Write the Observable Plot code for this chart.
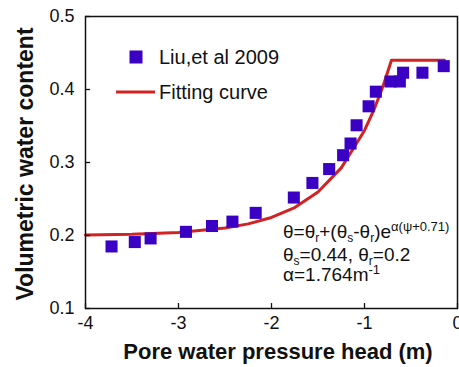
<!DOCTYPE html>
<html><head><meta charset="utf-8">
<script src="https://cdn.jsdelivr.net/npm/d3@7"></script>
<script src="https://cdn.jsdelivr.net/npm/@observablehq/plot@0.6"></script>
<style>body{margin:0;background:#fff} svg{display:block}</style>
</head><body><div id="chart"></div>
<script>
// Measured data (Liu, et al 2009)
const headX = [-3.72, -3.47, -3.30, -2.92, -2.64, -2.42, -2.17, -1.76, -1.56, -1.38, -1.23, -1.15, -1.085, -0.956, -0.878, -0.72, -0.62, -0.585, -0.377, -0.148];
const thetaY = [0.185, 0.191, 0.196, 0.205, 0.213, 0.219, 0.231, 0.252, 0.272, 0.291, 0.310, 0.326, 0.351, 0.377, 0.397, 0.411, 0.411, 0.423, 0.423, 0.432];
// Fitting curve
const curveX = [-4, -3.5, -3, -2.5, -2.25, -2, -1.75, -1.5, -1.25, -1.0, -0.9, -0.8, -0.71, -0.14];
const curveY = [0.2007, 0.2017, 0.2042, 0.2102, 0.2159, 0.2247, 0.2383, 0.2596, 0.2926, 0.3439, 0.3716, 0.4048, 0.44, 0.44];
const xTicks = [-4, -3, -2, -1, 0];
const yTicks = [0.1, 0.2, 0.3, 0.4, 0.5];
const seriesLabels = ["Liu,et al 2009", "Fitting curve"];
const xTitle = "Pore water pressure head (m)";
const yTitle = "Volumetric water content";

const points = headX.map((x, i) => ({x, y: thetaY[i]}));
const curve = curveX.map((x, i) => ({x, y: curveY[i]}));

const FONT = "'Liberation Sans', Arial, Helvetica, sans-serif";
const RED = "#d22222";
const BLUE = "#3a00c4";

const chart = Plot.plot({
  width: 459, height: 367,
  marginLeft: 85, marginRight: 2, marginTop: 16, marginBottom: 59,
  style: {fontFamily: FONT, fontSize: "18px", color: "#111", background: "#fff", overflow: "visible"},
  x: {domain: [-4, 0]},
  y: {domain: [0.1, 0.5]},
  marks: [
    Plot.line(curve, {x: "x", y: "y", stroke: RED, strokeWidth: 3}),
    Plot.dot(points, {x: "x", y: "y", symbol: "square", r: 6.8, fill: BLUE, stroke: "none"}),
    Plot.ruleX(xTicks, {x: d => d, y1: 0.1, y2: 0.1068, stroke: "#111", strokeWidth: 1.3}),
    Plot.ruleY(yTicks, {y: d => d, x1: -4, x2: -3.945, stroke: "#111", strokeWidth: 1.3}),
    Plot.axisX(xTicks, {tickSize: 0, tickPadding: 8, tickFormat: d => String(d), label: null, fill: "#111"}),
    Plot.axisY(yTicks, {tickSize: 0, tickPadding: 11, tickFormat: d3.format(".1f"), label: null, fill: "#111"}),
    Plot.frame({stroke: "#111", strokeWidth: 1.5})
  ]
});
document.getElementById("chart").append(chart);

const svg = d3.select(chart);
// Axis titles
svg.append("text").attr("x", 278).attr("y", 359).attr("text-anchor", "middle")
  .attr("font-family", FONT).attr("font-weight", "bold").attr("font-size", 22).attr("fill", "#111").text(xTitle);
svg.append("text").attr("transform", "translate(33,164) rotate(-90)").attr("text-anchor", "middle")
  .attr("font-family", FONT).attr("font-weight", "bold").attr("font-size", 23).attr("fill", "#111").text(yTitle);

// Legend
const lg = svg.append("g").attr("font-family", FONT).attr("font-size", 20).attr("fill", "#111").attr("text-anchor", "start");
lg.append("rect").attr("x", 129.5).attr("y", 50.5).attr("width", 13).attr("height", 13).attr("fill", BLUE);
lg.append("text").attr("x", 159).attr("y", 57).attr("dy", "0.35em").text(seriesLabels[0]);
lg.append("line").attr("x1", 116).attr("x2", 155).attr("y1", 92).attr("y2", 92).attr("stroke", RED).attr("stroke-width", 3);
lg.append("text").attr("x", 159).attr("y", 92).attr("dy", "0.35em").text(seriesLabels[1]);

// Equation
const eq = svg.append("g").attr("font-family", FONT).attr("font-size", 19).attr("fill", "#111").attr("text-anchor", "start");
function addLine(y, parts) {
  const t = eq.append("text").attr("x", 283).attr("y", y);
  for (const [s, kind] of parts) {
    const ts = t.append("tspan").text(s);
    if (kind === "sub") ts.attr("font-size", 12).attr("baseline-shift", "-4");
    else if (kind === "sup") ts.attr("font-size", 13).attr("baseline-shift", "7");
  }
}
addLine(238, [["θ=θ"], ["r", "sub"], ["+(θ"], ["s", "sub"], ["-θ"], ["r", "sub"], [")e"], ["α(ψ+0.71)", "sup"]]);
addLine(261, [["θ"], ["s", "sub"], ["=0.44, θ"], ["r", "sub"], ["=0.2"]]);
addLine(281, [["α=1.764m"], ["-1", "sup"]]);
</script>
</body></html>
